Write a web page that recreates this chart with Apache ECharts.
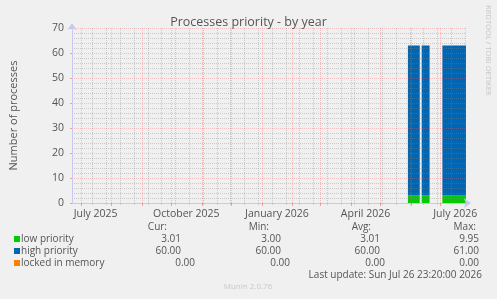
<!DOCTYPE html>
<html>
<head>
<meta charset="utf-8">
<script src="https://cdn.jsdelivr.net/npm/echarts@6/dist/echarts.min.js"></script>
<style>
html,body{margin:0;padding:0;background:#F0F0F0;}
#chart{width:497px;height:299px;}
</style>
</head>
<body>
<div id="chart"></div>
<script>
// ---- data ----
const rangeStart = '2025-06-21T23:20:00Z';
const rangeEnd = '2026-07-26T23:20:00Z';
const sampleTimes = ['2026-05-29', '2026-06-10', '2026-06-11', '2026-06-12', '2026-06-20', '2026-06-21', '2026-07-03', '2026-07-26T23:20:00Z'];
const lowPriority = [3.01, 3.01, null, 3.00, 3.00, null, 3.01, 3.01];
const highPriority = [60.00, 60.00, null, 60.00, 60.00, null, 60.00, 60.00];
const lockedInMemory = [0.00, 0.00, null, 0.00, 0.00, null, 0.00, 0.00];
const seriesNames = ['low priority', 'high priority', 'locked in memory'];
const seriesColors = ['#00CC00', '#0066B3', '#FF8000'];
const statCur = ['3.01', '60.00', '0.00'];
const statMin = ['3.00', '60.00', '0.00'];
const statAvg = ['3.01', '60.00', '0.00'];
const statMax = ['9.95', '61.00', '0.00'];
const monthStarts = ['2025-07-01','2025-08-01','2025-09-01','2025-10-01','2025-11-01','2025-12-01','2026-01-01','2026-02-01','2026-03-01','2026-04-01','2026-05-01','2026-06-01','2026-07-01'];
const labelDates = ['2025-07-16','2025-10-16','2026-01-16','2026-04-16','2026-07-16'];
const labelTexts = ['July 2025','October 2025','January 2026','April 2026','July 2026'];
const minorGridStart = '2025-07-13';
const yTicks = [0, 10, 20, 30, 40, 50, 60, 70];
const yMinorTicks = [2,4,6,8,12,14,16,18,22,24,26,28,32,34,36,38,42,44,46,48,52,54,56,58,62,64,66,68];

function t(s) { return Date.parse(s.length === 10 ? s + 'T00:00:00Z' : s); }
const xMin = t(rangeStart), xMax = t(rangeEnd);
const minorTicks = [];
for (let v = t(minorGridStart); v < xMax; v += 14 * 86400000) minorTicks.push(v);
const labelMap = {};
labelDates.forEach((d, i) => { labelMap[t(d)] = labelTexts[i]; });

const FONT = 'Open Sans';
const TXT = '#555555';
const MAJOR = 'rgba(235,90,90,0.32)';
const MINOR = 'rgba(130,130,130,0.35)';

function mk(vals) { return sampleTimes.map((s, i) => [t(s), vals[i]]); }

const series = [lowPriority, highPriority, lockedInMemory].map((vals, i) => ({
  name: seriesNames[i], type: 'line', stack: 'all', xAxisIndex: 0, yAxisIndex: 0,
  data: mk(vals), showSymbol: false, symbol: 'none', connectNulls: false,
  lineStyle: { width: 0 }, areaStyle: { color: seriesColors[i], opacity: 1 },
  itemStyle: { color: seriesColors[i] }, silent: true, animation: false, z: 2
}));

const graphic = [];
// legend
const rowsY = [239, 251, 263];
seriesNames.forEach((n, i) => {
  graphic.push({ type: 'rect', shape: { x: 14, y: rowsY[i] - 3, width: 6, height: 6 }, style: { fill: seriesColors[i] } });
  graphic.push({ type: 'text', x: 21, y: rowsY[i], style: { text: n, font: '10px "' + FONT + '"', fill: TXT, verticalAlign: 'middle' } });
});
const headers = [['Cur:', 167], ['Min:', 269], ['Avg:', 371], ['Max:', 476]];
headers.forEach(h => graphic.push({ type: 'text', x: h[1], y: 227, style: { text: h[0], font: '10px "' + FONT + '"', fill: TXT, align: 'right', verticalAlign: 'middle' } }));
const stats = [statCur, statMin, statAvg, statMax];
const colRight = [[181, 181, 195], [281, 281, 290], [380, 380, 385], [479, 479, 479]];
stats.forEach((col, c) => col.forEach((v, r) => graphic.push({ type: 'text', x: colRight[c][r], y: rowsY[r], style: { text: v, font: '10px "' + FONT + '"', fill: TXT, align: 'right', verticalAlign: 'middle' } })));
graphic.push({ type: 'text', x: 482, y: 275, style: { text: 'Last update: Sun Jul 26 23:20:00 2026', font: '10px "' + FONT + '"', fill: TXT, align: 'right', verticalAlign: 'middle' } });
graphic.push({ type: 'text', x: 248, y: 287, style: { text: 'Munin 2.0.76', font: '8px "' + FONT + '"', fill: '#c8c8c8', align: 'center', verticalAlign: 'middle' } });
graphic.push({ type: 'text', x: 488, y: 5, rotation: -Math.PI / 2, style: { text: 'RRDTOOL / TOBI OETIKER', font: '7.6px "' + FONT + '"', fill: '#c8c8c8', align: 'left', verticalAlign: 'middle' } });

const chart = echarts.init(document.getElementById('chart'), null, { renderer: 'canvas' });
chart.setOption({
  backgroundColor: '#F0F0F0',
  animation: false,
  title: { text: 'Processes priority - by year', left: 'center', top: 11, textStyle: { fontFamily: FONT, fontSize: 12.5, fontWeight: 'normal', color: TXT } },
  grid: { left: 66, right: 31, top: 28, bottom: 96, containLabel: false },
  xAxis: [
    { type: 'time', min: xMin, max: xMax, position: 'bottom', show: true,
      axisLine: { show: false }, axisTick: { show: false }, axisLabel: { show: false }, splitLine: { show: false } },
    { type: 'value', min: xMin, max: xMax, position: 'bottom', z: 4,
      axisLine: { show: true, lineStyle: { color: '#c8c8f0', width: 1 }, symbol: ['none', 'arrow'], symbolSize: [7, 7], symbolOffset: [0, 5] },
      axisTick: { show: true, customValues: monthStarts.map(t), length: 3, inside: false, lineStyle: { color: 'rgba(255,60,60,0.45)' } },
      axisLabel: { show: true, customValues: labelDates.map(t), formatter: v => labelMap[v] || '', fontFamily: FONT, fontSize: 10.5, color: TXT, margin: 6 },
      splitLine: { show: true, lineStyle: { color: MAJOR, type: 'dotted', width: 1 } } },
    { type: 'value', min: xMin, max: xMax, position: 'bottom', z: 3,
      axisLine: { show: false }, axisLabel: { show: false },
      axisTick: { show: true, customValues: minorTicks, length: 2, lineStyle: { color: MINOR } },
      splitLine: { show: true, lineStyle: { color: MINOR, type: 'dotted', width: 1 } } }
  ],
  yAxis: [
    { type: 'value', min: 0, max: 70, interval: 10, z: 4,
      name: 'Number of processes', nameLocation: 'middle', nameGap: 53, nameRotate: 90,
      nameTextStyle: { fontFamily: FONT, fontSize: 11, color: TXT },
      axisLine: { show: true, lineStyle: { color: '#c8c8f0' }, symbol: ['none', 'arrow'], symbolSize: [7, 7], symbolOffset: [0, 5] },
      axisTick: { show: true, length: 2, lineStyle: { color: 'rgba(255,60,60,0.45)' } },
      axisLabel: { fontFamily: FONT, fontSize: 10.5, color: TXT, margin: 8, customValues: yTicks },
      splitLine: { show: true, lineStyle: { color: MAJOR, type: 'dotted' } } },
    { type: 'value', min: 0, max: 70, position: 'left', z: 3,
      axisLine: { show: false }, axisLabel: { show: false }, axisTick: { show: false, customValues: yMinorTicks },
      splitLine: { show: true, lineStyle: { color: MINOR, type: 'dotted' } } }
  ],
  series: series,
  graphic: graphic
});
</script>
</body>
</html>
